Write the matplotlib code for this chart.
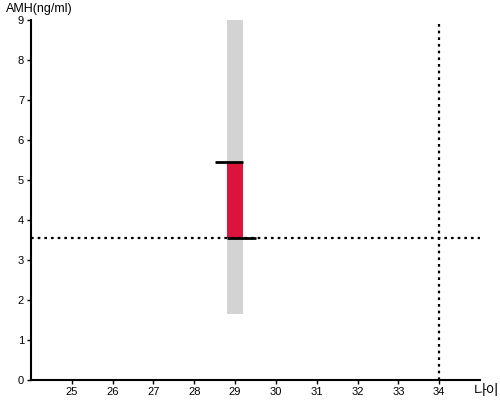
import matplotlib
matplotlib.use('Agg')
import matplotlib.pyplot as plt

plt.rcParams['font.family'] = ['Liberation Sans', 'Noto Sans CJK KR', 'DejaVu Sans']

# data
age = 29
range_low = 1.65
range_high = 9.0
amh_low = 3.55
amh_high = 5.45
ref_amh = 3.55
ref_age = 34
x_ticks = [25, 26, 27, 28, 29, 30, 31, 32, 33, 34]
y_ticks = [0, 1, 2, 3, 4, 5, 6, 7, 8, 9]

fig = plt.figure(figsize=(5, 4), dpi=100)
ax = fig.add_axes([0.062, 0.05, 0.898, 0.9])

bw = 0.4
ax.bar(age, range_high - range_low, bottom=range_low, width=bw, color='#d3d3d3', zorder=1)
ax.bar(age, amh_high - amh_low, bottom=amh_low, width=bw, color='#dc143c', zorder=2)
ax.hlines(amh_high, age - 0.5, age + bw / 2, color='black', lw=2, zorder=3)
ax.hlines(amh_low, age - bw / 2, age + 0.5, color='black', lw=2, zorder=3)

ax.axhline(ref_amh, color='black', ls=(0, (1.2, 1.8)), lw=1.6, zorder=4)
ax.axvline(ref_age, color='black', ls=(0, (1.2, 1.8)), lw=1.6, zorder=4)

ax.set_xlim(24, 35)
ax.set_ylim(0, 9)
ax.set_xticks(x_ticks)
ax.set_yticks(y_ticks)
ax.tick_params(labelsize=8, length=3, width=1, pad=2)
for s in ['top', 'right']:
    ax.spines[s].set_visible(False)
for s in ['left', 'bottom']:
    ax.spines[s].set_linewidth(1.5)

fig.text(0.012, 0.992, 'AMH(ng/ml)', fontsize=9, ha='left', va='top')
fig.text(0.998, 0.004, '나이', fontsize=10, ha='right', va='bottom', family=['Noto Sans CJK KR', 'DejaVu Sans'])

fig.savefig('out.png', dpi=100)
